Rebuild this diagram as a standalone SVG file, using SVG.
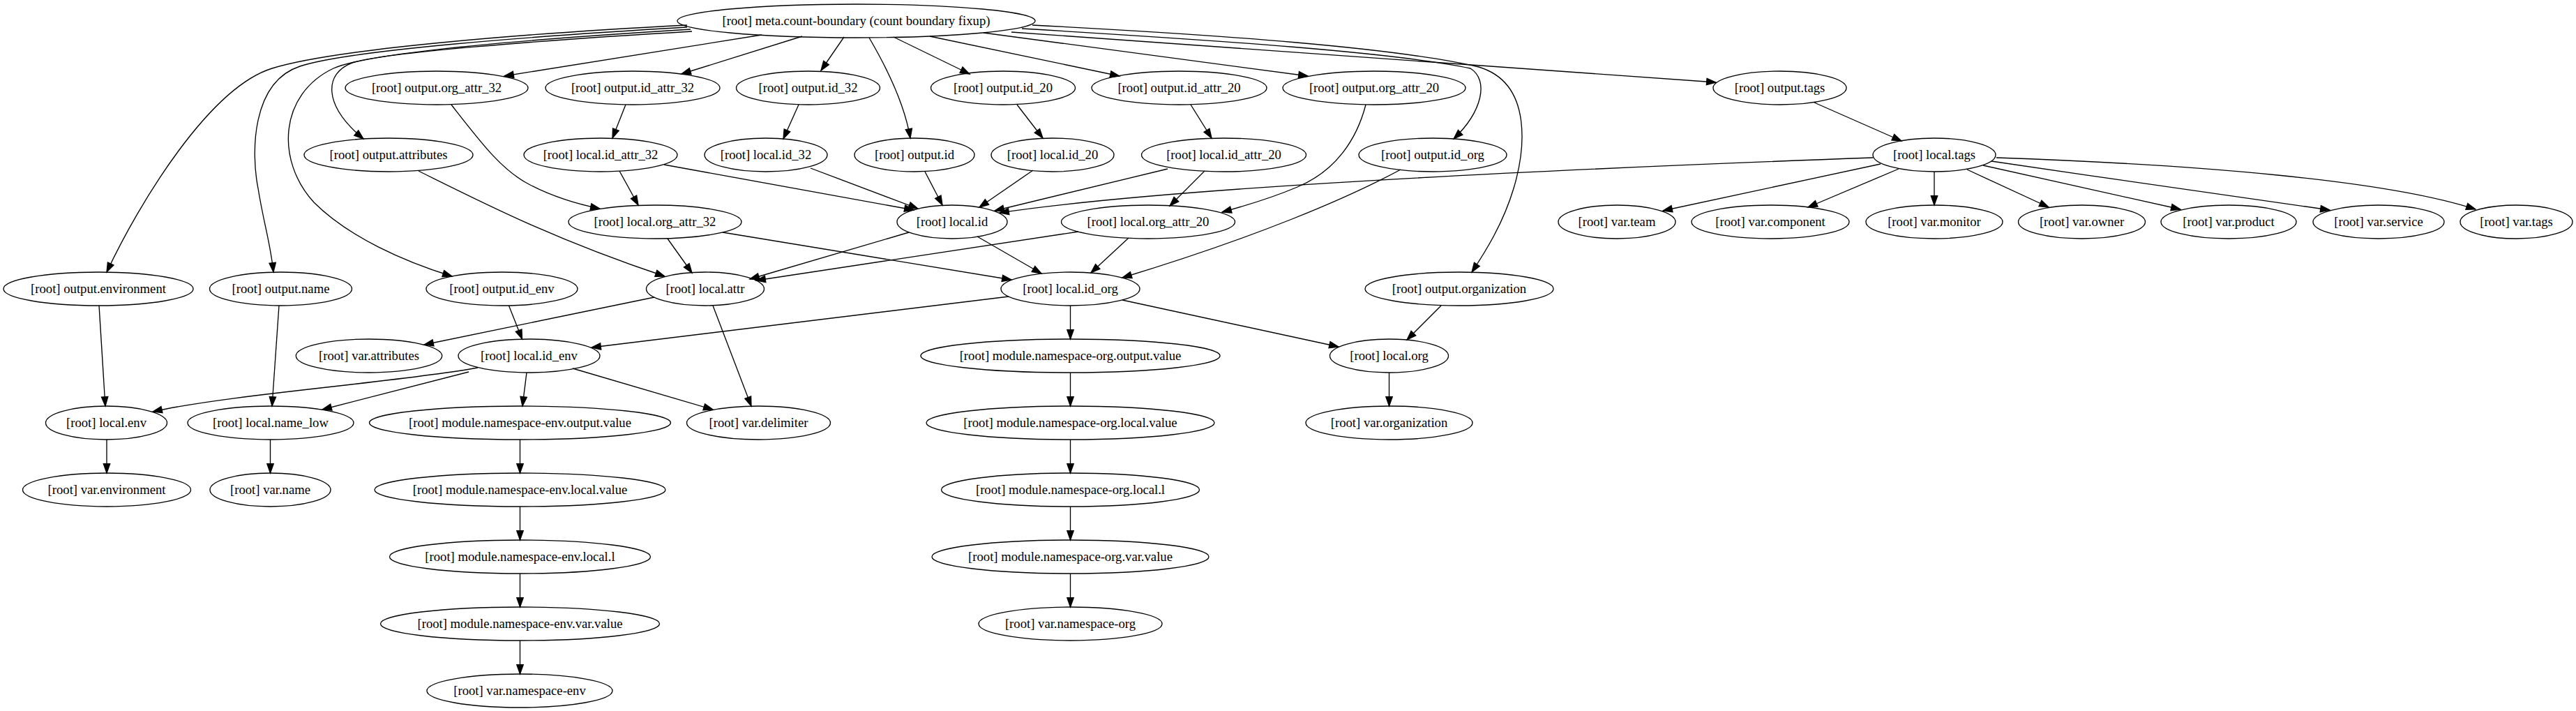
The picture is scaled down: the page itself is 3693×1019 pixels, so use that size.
<svg xmlns="http://www.w3.org/2000/svg" width="3693" height="1019" viewBox="0 0 3693 1019">
<defs>
<style>
.node ellipse{fill:none;stroke:#000;stroke-width:1.33}
.node text{font-family:"Liberation Serif","Times New Roman",serif;font-size:18.67px;text-anchor:middle;fill:#000}
.edges path{fill:none;stroke:#000;stroke-width:1.33;marker-end:url(#arrow)}
</style>
<marker id="arrow" markerUnits="userSpaceOnUse" markerWidth="20" markerHeight="14" refX="14" refY="7" orient="auto" overflow="visible">
<path d="M0.7,2.33 L14,7 L0.7,11.67 Z" fill="#000" stroke="#000" stroke-width="1.33"/>
</marker>
</defs>
<rect width="3693" height="1019" fill="#fff"/>
<g class="edges" id="connectors">
<path d="M1092,50 L723,109"/>
<path d="M1150,52 L977,106"/>
<path d="M1210,53 L1177,101"/>
<path d="M1246,54 C1270,95 1297,150 1305,198"/>
<path d="M1281,53 L1390,106"/>
<path d="M1333,52 L1605,109"/>
<path d="M1410,47 L1875,109"/>
<path d="M1465,41 C1750,58 2000,75 2108,98 C2135,115 2125,160 2084,199"/>
<path d="M1480,36 C1750,50 2000,68 2120,96 C2200,120 2185,220 2170,270 C2155,320 2130,360 2110,390"/>
<path d="M1450,46 L2460,118"/>
<path d="M985,36 C750,48 480,70 390,98 C300,126 200,290 153,390"/>
<path d="M985,39 C760,52 500,72 430,95 C360,118 360,220 370,270 C378,320 388,350 392,390"/>
<path d="M990,42 C760,56 530,75 478,98 C400,135 395,230 450,290 C500,340 580,375 648,396"/>
<path d="M992,45 C770,58 545,76 505,90 C465,105 462,150 521,199"/>
<path d="M647,150 C690,205 720,245 760,265 C795,283 830,293 860,299"/>
<path d="M897,150 L878,198"/>
<path d="M1145,150 L1123,199"/>
<path d="M1458,150 L1495,198"/>
<path d="M1707,150 L1737,198"/>
<path d="M1958,150 C1945,200 1915,245 1860,268 C1820,285 1785,295 1752,304"/>
<path d="M2008,243 C1930,285 1800,340 1609,398"/>
<path d="M2601,147 L2726,202"/>
<path d="M2685,226 C2300,240 1700,265 1433,305"/>
<path d="M2696,235 L2384,302"/>
<path d="M2722,242 L2592,297"/>
<path d="M2773,246 L2773,294"/>
<path d="M2820,243 L2937,297"/>
<path d="M2843,237 L3126,300"/>
<path d="M2855,231 C3020,255 3200,282 3340,301"/>
<path d="M2862,226 C3150,236 3420,258 3549,300"/>
<path d="M888,245 L915,294"/>
<path d="M952,236 L1310,301"/>
<path d="M1162,241 L1316,299"/>
<path d="M1326,246 L1351,294"/>
<path d="M1481,244 L1404,297"/>
<path d="M1674,242 L1426,302"/>
<path d="M1727,245 L1677,295"/>
<path d="M957,342 L992,391"/>
<path d="M1036,333 L1450,401"/>
<path d="M1303,333 L1075,400"/>
<path d="M1401,339 L1493,392"/>
<path d="M1546,332 L1084,402"/>
<path d="M1618,341 L1564,391"/>
<path d="M600,245 C700,295 800,345 953,396"/>
<path d="M938,426 L608,494"/>
<path d="M1022,438 L1077,582"/>
<path d="M1446,425 L848,498"/>
<path d="M1534.5,438 L1534.5,486"/>
<path d="M1609,430 L1919,497"/>
<path d="M2066,438 L2017,487"/>
<path d="M1991.5,534 L1991.5,582"/>
<path d="M729.5,438 L748.5,486"/>
<path d="M685,527 C570,548 330,565 219,590"/>
<path d="M672,533 L462,587"/>
<path d="M755,534 L749,582"/>
<path d="M821,528 L1022,587"/>
<path d="M142,438 L151,582"/>
<path d="M400,438 L390,582"/>
<path d="M153,630 L153,678"/>
<path d="M387.5,630 L387.5,678"/>
<path d="M745.5,630 L745.5,678"/>
<path d="M745.5,726 L745.5,774"/>
<path d="M745.5,822 L745.5,870"/>
<path d="M745.5,918 L745.5,966"/>
<path d="M1534.5,534 L1534.5,582"/>
<path d="M1534.5,630 L1534.5,678"/>
<path d="M1534.5,726 L1534.5,774"/>
<path d="M1534.5,822 L1534.5,870"/>
</g>
<g class="node" id="n_meta"><ellipse cx="1227.5" cy="30" rx="256.5" ry="24"/><text x="1227.5" y="36">[root] meta.count-boundary (count boundary fixup)</text></g>
<g class="node" id="n_out_org_attr_32"><ellipse cx="626" cy="126" rx="131" ry="24"/><text x="626" y="132">[root] output.org_attr_32</text></g>
<g class="node" id="n_out_id_attr_32"><ellipse cx="907" cy="126" rx="125" ry="24"/><text x="907" y="132">[root] output.id_attr_32</text></g>
<g class="node" id="n_out_id_32"><ellipse cx="1158.5" cy="126" rx="103" ry="24"/><text x="1158.5" y="132">[root] output.id_32</text></g>
<g class="node" id="n_out_id_20"><ellipse cx="1438" cy="126" rx="103.5" ry="24"/><text x="1438" y="132">[root] output.id_20</text></g>
<g class="node" id="n_out_id_attr_20"><ellipse cx="1690.5" cy="126" rx="125.5" ry="24"/><text x="1690.5" y="132">[root] output.id_attr_20</text></g>
<g class="node" id="n_out_org_attr_20"><ellipse cx="1970" cy="126" rx="131" ry="24"/><text x="1970" y="132">[root] output.org_attr_20</text></g>
<g class="node" id="n_out_tags"><ellipse cx="2551.5" cy="126" rx="95.5" ry="24"/><text x="2551.5" y="132">[root] output.tags</text></g>
<g class="node" id="n_out_attributes"><ellipse cx="557" cy="222" rx="121" ry="24"/><text x="557" y="228">[root] output.attributes</text></g>
<g class="node" id="n_loc_id_attr_32"><ellipse cx="861" cy="222" rx="110" ry="24"/><text x="861" y="228">[root] local.id_attr_32</text></g>
<g class="node" id="n_loc_id_32"><ellipse cx="1098" cy="222" rx="88" ry="24"/><text x="1098" y="228">[root] local.id_32</text></g>
<g class="node" id="n_out_id"><ellipse cx="1311" cy="222" rx="86" ry="24"/><text x="1311" y="228">[root] output.id</text></g>
<g class="node" id="n_loc_id_20"><ellipse cx="1509" cy="222" rx="88" ry="24"/><text x="1509" y="228">[root] local.id_20</text></g>
<g class="node" id="n_loc_id_attr_20"><ellipse cx="1754.5" cy="222" rx="118" ry="24"/><text x="1754.5" y="228">[root] local.id_attr_20</text></g>
<g class="node" id="n_out_id_org"><ellipse cx="2054" cy="222" rx="106" ry="24"/><text x="2054" y="228">[root] output.id_org</text></g>
<g class="node" id="n_loc_tags"><ellipse cx="2773" cy="222" rx="88" ry="24"/><text x="2773" y="228">[root] local.tags</text></g>
<g class="node" id="n_loc_org_attr_32"><ellipse cx="939" cy="318" rx="124" ry="24"/><text x="939" y="324">[root] local.org_attr_32</text></g>
<g class="node" id="n_loc_id"><ellipse cx="1365" cy="318" rx="79" ry="24"/><text x="1365" y="324">[root] local.id</text></g>
<g class="node" id="n_loc_org_attr_20"><ellipse cx="1646" cy="318" rx="124.5" ry="24"/><text x="1646" y="324">[root] local.org_attr_20</text></g>
<g class="node" id="n_var_team"><ellipse cx="2318" cy="318" rx="84" ry="24"/><text x="2318" y="324">[root] var.team</text></g>
<g class="node" id="n_var_component"><ellipse cx="2538" cy="318" rx="113" ry="24"/><text x="2538" y="324">[root] var.component</text></g>
<g class="node" id="n_var_monitor"><ellipse cx="2773" cy="318" rx="98" ry="24"/><text x="2773" y="324">[root] var.monitor</text></g>
<g class="node" id="n_var_owner"><ellipse cx="2984.5" cy="318" rx="91" ry="24"/><text x="2984.5" y="324">[root] var.owner</text></g>
<g class="node" id="n_var_product"><ellipse cx="3195" cy="318" rx="97" ry="24"/><text x="3195" y="324">[root] var.product</text></g>
<g class="node" id="n_var_service"><ellipse cx="3410" cy="318" rx="94" ry="24"/><text x="3410" y="324">[root] var.service</text></g>
<g class="node" id="n_var_tags"><ellipse cx="3607.5" cy="318" rx="80.5" ry="24"/><text x="3607.5" y="324">[root] var.tags</text></g>
<g class="node" id="n_out_environment"><ellipse cx="141" cy="414" rx="136" ry="24"/><text x="141" y="420">[root] output.environment</text></g>
<g class="node" id="n_out_name"><ellipse cx="402.5" cy="414" rx="102" ry="24"/><text x="402.5" y="420">[root] output.name</text></g>
<g class="node" id="n_out_id_env"><ellipse cx="719.5" cy="414" rx="108.5" ry="24"/><text x="719.5" y="420">[root] output.id_env</text></g>
<g class="node" id="n_loc_attr"><ellipse cx="1011" cy="414" rx="84.5" ry="24"/><text x="1011" y="420">[root] local.attr</text></g>
<g class="node" id="n_loc_id_org"><ellipse cx="1534.5" cy="414" rx="99.5" ry="24"/><text x="1534.5" y="420">[root] local.id_org</text></g>
<g class="node" id="n_out_organization"><ellipse cx="2092" cy="414" rx="135" ry="24"/><text x="2092" y="420">[root] output.organization</text></g>
<g class="node" id="n_var_attributes"><ellipse cx="529" cy="510" rx="104.7" ry="24"/><text x="529" y="516">[root] var.attributes</text></g>
<g class="node" id="n_loc_id_env"><ellipse cx="758.5" cy="510" rx="101.5" ry="24"/><text x="758.5" y="516">[root] local.id_env</text></g>
<g class="node" id="n_mod_org_output_value"><ellipse cx="1534.5" cy="510" rx="214.5" ry="24"/><text x="1534.5" y="516">[root] module.namespace-org.output.value</text></g>
<g class="node" id="n_loc_org"><ellipse cx="1991.5" cy="510" rx="85" ry="24"/><text x="1991.5" y="516">[root] local.org</text></g>
<g class="node" id="n_loc_env"><ellipse cx="152.5" cy="606" rx="87" ry="24"/><text x="152.5" y="612">[root] local.env</text></g>
<g class="node" id="n_loc_name_low"><ellipse cx="388" cy="606" rx="119" ry="24"/><text x="388" y="612">[root] local.name_low</text></g>
<g class="node" id="n_mod_env_output_value"><ellipse cx="745.5" cy="606" rx="216" ry="24"/><text x="745.5" y="612">[root] module.namespace-env.output.value</text></g>
<g class="node" id="n_var_delimiter"><ellipse cx="1087.5" cy="606" rx="103" ry="24"/><text x="1087.5" y="612">[root] var.delimiter</text></g>
<g class="node" id="n_mod_org_local_value"><ellipse cx="1534.5" cy="606" rx="206.5" ry="24"/><text x="1534.5" y="612">[root] module.namespace-org.local.value</text></g>
<g class="node" id="n_var_organization"><ellipse cx="1991.5" cy="606" rx="119.5" ry="24"/><text x="1991.5" y="612">[root] var.organization</text></g>
<g class="node" id="n_var_environment"><ellipse cx="153" cy="702" rx="120.5" ry="24"/><text x="153" y="708">[root] var.environment</text></g>
<g class="node" id="n_var_name"><ellipse cx="387.5" cy="702" rx="86.5" ry="24"/><text x="387.5" y="708">[root] var.name</text></g>
<g class="node" id="n_mod_env_local_value"><ellipse cx="745.5" cy="702" rx="208.5" ry="24"/><text x="745.5" y="708">[root] module.namespace-env.local.value</text></g>
<g class="node" id="n_mod_org_local_l"><ellipse cx="1534.5" cy="702" rx="185" ry="24"/><text x="1534.5" y="708">[root] module.namespace-org.local.l</text></g>
<g class="node" id="n_mod_env_local_l"><ellipse cx="745.5" cy="798" rx="187" ry="24"/><text x="745.5" y="804">[root] module.namespace-env.local.l</text></g>
<g class="node" id="n_mod_org_var_value"><ellipse cx="1534.5" cy="798" rx="198.5" ry="24"/><text x="1534.5" y="804">[root] module.namespace-org.var.value</text></g>
<g class="node" id="n_mod_env_var_value"><ellipse cx="745.5" cy="894" rx="200" ry="24"/><text x="745.5" y="900">[root] module.namespace-env.var.value</text></g>
<g class="node" id="n_var_namespace_org"><ellipse cx="1534.5" cy="894" rx="131.5" ry="24"/><text x="1534.5" y="900">[root] var.namespace-org</text></g>
<g class="node" id="n_var_namespace_env"><ellipse cx="745" cy="990" rx="133" ry="24"/><text x="745" y="996">[root] var.namespace-env</text></g>
</svg>
